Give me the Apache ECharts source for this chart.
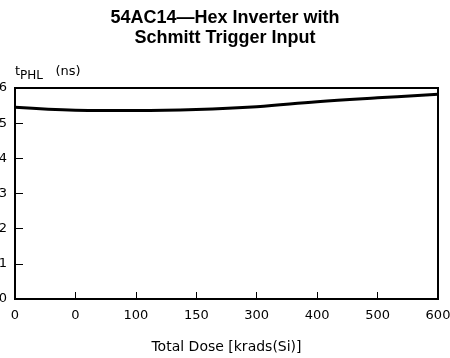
<!DOCTYPE html>
<html>
<head>
<meta charset="utf-8">
<script src="https://cdn.jsdelivr.net/npm/echarts@6/dist/echarts.min.js"></script>
<style>
  html, body { margin: 0; padding: 0; background: #fff; }
  #chart { width: 450px; height: 358px; }
</style>
</head>
<body>
<div id="chart"></div>
<script>
// tick labels as printed on the original (evenly spaced)
const doseLabels = ["0", "0", "100", "150", "300", "400", "500", "600"];
const tphl = [5.45, 5.37, 5.36, 5.39, 5.47, 5.61, 5.72, 5.82];
const yTicks = [0, 1, 2, 3, 4, 5, 6];

const chart = echarts.init(document.getElementById("chart"));
const txt = "#000";
const font = "DejaVu Sans";

chart.setOption({
  animation: false,
  title: {
    text: "54AC14\u2014Hex Inverter with\nSchmitt Trigger Input",
    left: "center",
    top: 3,
    textStyle: {
      fontFamily: "Liberation Sans",
      fontWeight: "bold",
      fontSize: 18,
      lineHeight: 20,
      color: txt
    }
  },
  grid: {
    left: 15, right: 12, top: 88, bottom: 59,
    outerBoundsMode: "none",
    show: true, borderColor: "#000", borderWidth: 2
  },
  xAxis: {
    type: "value",
    min: 0, max: doseLabels.length - 1, interval: 1,
    name: "Total Dose [krads(Si)]",
    nameLocation: "middle",
    nameGap: 41,
    nameTextStyle: { fontFamily: font, fontSize: 14, color: txt },
    axisLine: { lineStyle: { color: "#000", width: 2 } },
    axisTick: { inside: true, length: 7, lineStyle: { color: "#000", width: 1 } },
    axisLabel: {
      fontFamily: font, fontSize: 13, color: txt, margin: 10,
      formatter: (v) => doseLabels[Math.round(v)]
    },
    splitLine: { show: false }
  },
  yAxis: {
    type: "value",
    min: yTicks[0], max: yTicks[yTicks.length - 1], interval: 1,
    name: "{t|t}{sub|PHL}{t|   (ns)}",
    nameLocation: "end",
    nameGap: 6,
    nameTextStyle: {
      align: "left",
      rich: {
        t: { fontFamily: font, fontSize: 13, color: txt },
        sub: { fontFamily: font, fontSize: 12, color: txt, padding: [8, 0, 0, 0] }
      }
    },
    axisLine: { lineStyle: { color: "#000", width: 2 } },
    axisTick: { inside: true, length: 8, lineStyle: { color: "#000", width: 1 } },
    axisLabel: { fontFamily: font, fontSize: 13, color: txt, margin: 8 },
    splitLine: { show: false }
  },
  series: [{
    type: "line",
    data: tphl.map((v, i) => [i, v]),
    smooth: 0.4,
    symbol: "none",
    lineStyle: { color: "#000", width: 3 }
  }]
});
</script>
</body>
</html>
